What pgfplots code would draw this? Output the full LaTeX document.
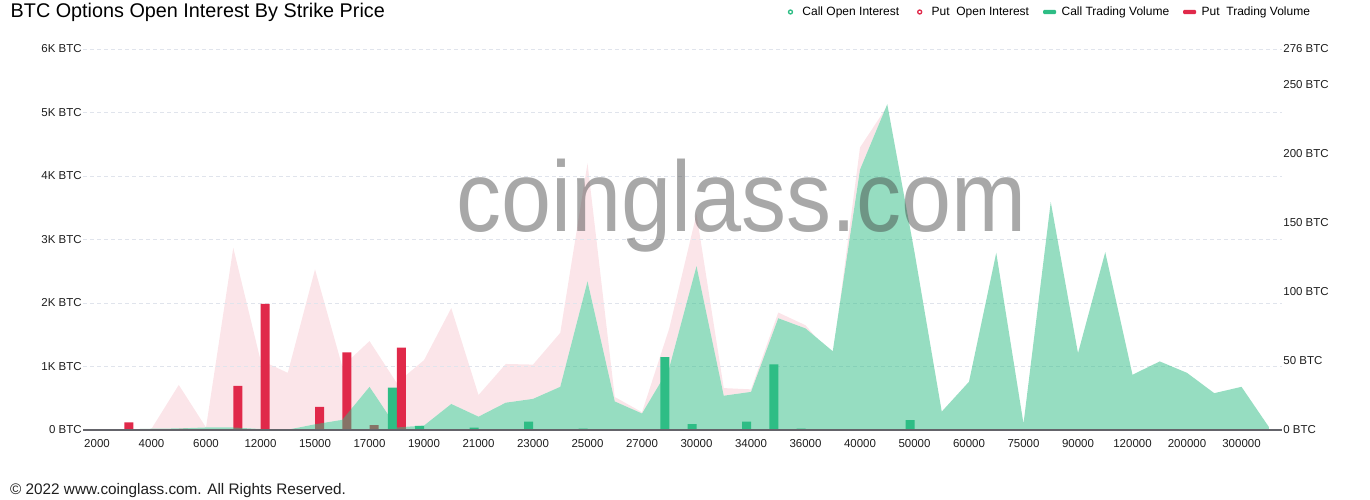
\documentclass[border=0pt]{standalone}
\usepackage{fontspec}
\setmainfont{Liberation Sans}
\usepackage{graphicx}
\usepackage{pgfplots}
\usepackage{pgfplotstable}
\pgfplotsset{compat=1.18}
\definecolor{callg}{RGB}{46,189,133}
\definecolor{putr}{RGB}{224,41,74}
\definecolor{gridc}{RGB}{224,228,236}
\definecolor{axc}{RGB}{100,100,106}
\definecolor{txt}{RGB}{30,30,30}
\definecolor{wm}{RGB}{62,62,62}

% idx strike callOI putOI
\pgfplotstableread{
idx strike callOI putOI
0 2000 0 10
1 3000 10 10
2 4000 20 20
3 5000 25 710
4 6000 40 40
5 10000 40 2870
6 12000 15 1100
7 14000 5 900
8 15000 90 2530
9 16000 160 1000
10 17000 680 1400
11 18000 40 740
12 19000 70 1100
13 20000 410 1920
14 21000 210 550
15 22000 430 1040
16 23000 490 1030
17 24000 680 1530
18 25000 2340 4200
19 26000 450 520
20 27000 260 280
21 28000 980 1600
22 30000 2580 3400
23 32000 540 660
24 34000 600 640
25 35000 1760 1850
26 36000 1600 1650
27 38000 1240 1150
28 40000 4100 4450
29 45000 5130 5100
30 50000 2800 1500
31 55000 290 200
32 60000 760 300
33 70000 2790 400
34 75000 100 60
35 80000 3590 200
36 90000 1210 100
37 100000 2800 100
38 120000 870 50
39 150000 1080 50
40 200000 900 30
41 250000 580 20
42 300000 680 10
43 400000 50 5
}\oitable

% idx strike callVol putVol
\pgfplotstableread{
idx strike callVol putVol
0 2000 0 0
1 3000 0 5.6
2 4000 0 0
3 5000 0 0.8
4 6000 0 0
5 10000 0 32
6 12000 0 91.3
7 14000 0 0
8 15000 0 16.7
9 16000 0 56.3
10 17000 0.7 3.6
11 18000 30.7 59.6
12 19000 2.9 0
13 20000 0 0
14 21000 1.7 0
15 22000 0 0
16 23000 6 0
17 24000 0 0
18 25000 1 0
19 26000 0 0
20 27000 0 0
21 28000 52.7 0
22 30000 4.3 0
23 32000 0.5 0
24 34000 6 0
25 35000 47.6 0
26 36000 1 0
27 38000 0 0
28 40000 0 0
29 45000 0 0
30 50000 7.2 0
31 55000 0 0
32 60000 0 0
33 70000 0 0
34 75000 0.5 0
35 80000 0 0
36 90000 0 0
37 100000 0.5 0
38 120000 0 0
39 150000 0 0
40 200000 0.5 0
41 250000 0 0
42 300000 0 0
43 400000 0 0
}\voltable

\pgfplotsset{
  base/.style={
    at={(83.4bp,70bp)}, anchor=south west, scale only axis,
    width=1199bp, height=381bp, xmin=-0.5, xmax=43.5,
    /pgf/number format/assume math mode=true,
    tick label style={font=\fontsize{11.5bp}{13bp}\selectfont, text=txt},
    major tick length=0pt,
    clip=false,
  },
  legcirc/.style={legend image code/.code={%
    \path[draw=none, fill=none] (0bp,-2.5bp) rectangle (13bp,2.5bp);
    \draw[##1, line width=1.3bp, fill=white] (6.5bp,0bp) circle (2bp);}},
  legrect/.style={legend image code/.code={%
    \fill[##1, draw=none, rounded corners=1.2bp] (0bp,-2.2bp) rectangle (13bp,2.2bp);}},
}

\begin{document}
\begin{tikzpicture}
\path[use as bounding box] (0,0) rectangle (1370bp,500bp);

% layer 1: put open interest, grid and labels on top
\begin{axis}[base, ymin=0, ymax=6000, axis on top,
  axis x line*=bottom, axis y line*=left,
  x axis line style={draw=none},
  y axis line style={draw=none},
  ytick={0,1000,...,6000},
  yticklabels={0 BTC,1K BTC,2K BTC,3K BTC,4K BTC,5K BTC,6K BTC},
  xtick={0,2,...,42},
  xticklabels={2000,4000,6000,12000,15000,17000,19000,21000,23000,25000,27000,30000,34000,36000,40000,50000,60000,75000,90000,120000,200000,300000},
  ymajorgrids, major grid style={gridc, dash pattern=on 4bp off 3bp, line width=0.9bp},
  yticklabel style={anchor=east, inner sep=0pt, xshift=-1.5bp},
  xticklabel style={anchor=north, inner sep=0pt, yshift=-9.3bp},
  scaled y ticks=false,
]
\addplot[draw=none, fill=putr, fill opacity=0.12] table[x=idx, y=putOI] {\oitable} \closedcycle;
% the call area hides the put area beneath it
\addplot[draw=none, fill=white] table[x=idx, y=callOI] {\oitable} \closedcycle;
\end{axis}

% layer 2: trading volume bars, right axis
\begin{axis}[base, ymin=0, ymax=276,
  axis x line*=bottom, axis y line*=right,
  x axis line style={draw=none},
  y axis line style={draw=none},
  xtick=\empty,
  ytick={0,50,100,150,200,250,276},
  yticklabels={0 BTC,50 BTC,100 BTC,150 BTC,200 BTC,250 BTC,276 BTC},
  yticklabel style={anchor=west, inner sep=0pt, xshift=0.8bp},
  legend columns=4,
  legend cell align=left,
  legend style={draw=none, fill=none, inner sep=0pt, outer sep=0pt,
    at={(1.02302,1.0971)}, anchor=east,
    font=\fontsize{12bp}{14bp}\selectfont,
    nodes={inner sep=0pt},
    /tikz/every odd column/.style={column sep=5.5bp},
    /tikz/every even column/.style={column sep=14bp}},
]
\addplot[ybar, bar width=9bp, bar shift=-4.5bp, fill=callg, draw=none, forget plot] table[x=idx, y=callVol] {\voltable};
\addplot[ybar, bar width=9bp, bar shift=4.5bp, fill=putr, draw=none, forget plot] table[x=idx, y=putVol] {\voltable};
\addlegendimage{legcirc, draw=callg}
\addlegendentry{Call Open Interest}
\addlegendimage{legcirc, draw=putr}
\addlegendentry{Put~~Open Interest}
\addlegendimage{legrect, fill=callg}
\addlegendentry{Call Trading Volume}
\addlegendimage{legrect, fill=putr}
\addlegendentry{Put~~Trading Volume}
\end{axis}

% layer 3: call open interest on top, axis line
\begin{axis}[base, ymin=0, ymax=6000, axis on top,
  axis x line*=bottom, axis y line*=left,
  x axis line style={draw=axc, line width=1.1bp, -},
  y axis line style={draw=none},
  xtick=\empty, ytick=\empty,
  ymajorgrids, major grid style={gridc, opacity=0.45, dash pattern=on 4bp off 3bp, line width=0.9bp},
]
\addplot[draw=none, fill=callg, fill opacity=0.5] table[x=idx, y=callOI] {\oitable} \closedcycle;
\end{axis}

% watermark
\node[anchor=base west, inner sep=0pt, text=wm, text opacity=0.45,
  font=\fontsize{100bp}{110bp}\selectfont] at (456bp,268bp) {\scalebox{0.9}[1]{coinglass.com}};

% title and footer
\node[anchor=base west, inner sep=0pt, text=black, font=\fontsize{19.8bp}{23bp}\selectfont]
  at (10.5bp,482.6bp) {BTC Options Open Interest By Strike Price};
\node[anchor=base west, inner sep=0pt, text=txt, font=\fontsize{15.3bp}{18bp}\selectfont]
  at (10bp,6bp) {© 2022 www.coinglass.com. All Rights Reserved.};
\end{tikzpicture}
\end{document}
